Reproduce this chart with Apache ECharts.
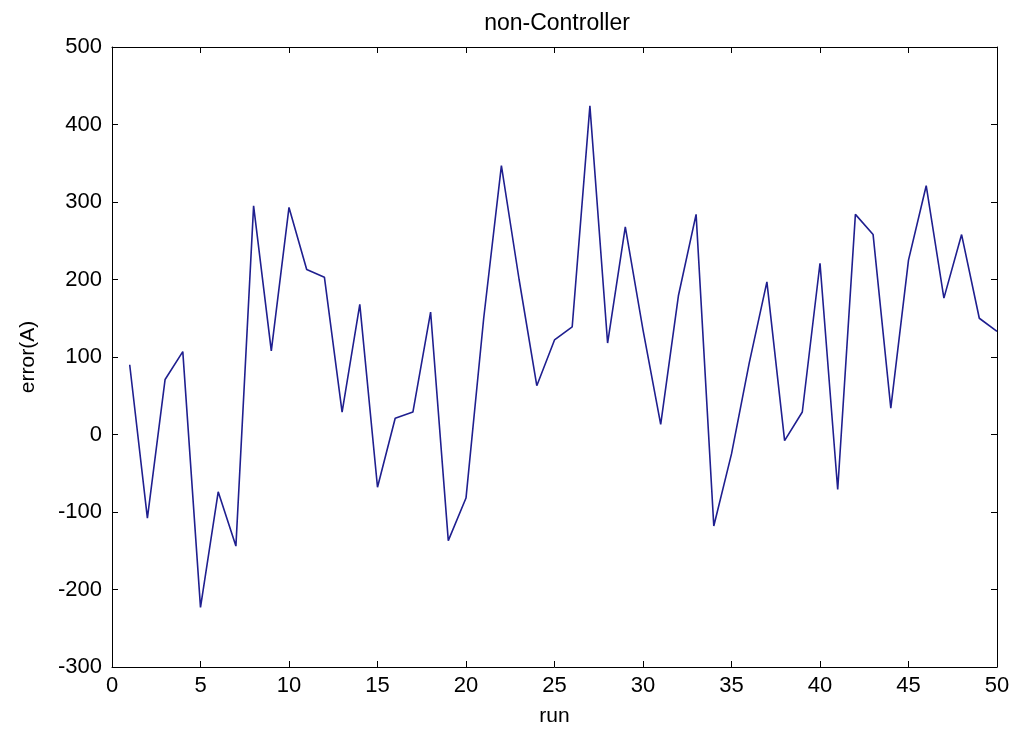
<!DOCTYPE html>
<html>
<head>
<meta charset="utf-8">
<script src="https://cdn.jsdelivr.net/npm/echarts@6/dist/echarts.min.js"></script>
<style>html,body{margin:0;padding:0;background:#fff}#c{width:1016px;height:735px}</style>
</head>
<body>
<div id="c"></div>
<script>
const runs = [1,2,3,4,5,6,7,8,9,10,11,12,13,14,15,16,17,18,19,20,21,22,23,24,25,26,27,28,29,30,31,32,33,34,35,36,37,38,39,40,41,42,43,44,45,46,47,48,49,50];
const errorA = [90,-108,71,107,-223,-74,-144,295,108,293,213,203,29,168,-68,21,29,158,-137,-82,150,347,200,63,122,139,424,118,268,135,13,179,284,-118,-25,92,197,-8,29,221,-71,284,258,34,225,321,176,258,150,133];
const xTicks = {min:0, max:50, interval:5};
const yTicks = {min:-300, max:500, interval:100};

const font = 'Liberation Sans, Arial, sans-serif';
const chart = echarts.init(document.getElementById('c'));
const mkLine = () => ({show:true, onZero:false, lineStyle:{color:'#000', width:1}});
const mkTick = () => ({show:true, inside:true, length:6, lineStyle:{color:'#000'}});
chart.setOption({
  animation:false,
  backgroundColor:'#fff',
  title:{text:'non-Controller', left:552, top:7, textAlign:'center',
    textStyle:{fontFamily:font, fontSize:23, fontWeight:'normal', color:'#000'}},
  grid:{left:112, right:19, top:47, bottom:68},
  xAxis:[{type:'value', min:xTicks.min, max:xTicks.max, interval:xTicks.interval,
    name:'run', nameLocation:'middle', nameGap:39,
    nameTextStyle:{fontFamily:font, fontSize:21, color:'#000'},
    axisLine:mkLine(), axisTick:mkTick(), splitLine:{show:false},
    axisLabel:{fontFamily:font, fontSize:22, color:'#000', margin:8}},
   {type:'value', position:'top', min:xTicks.min, max:xTicks.max, interval:xTicks.interval,
    axisLine:mkLine(), axisTick:mkTick(), splitLine:{show:false}, axisLabel:{show:false}}],
  yAxis:[{type:'value', min:yTicks.min, max:yTicks.max, interval:yTicks.interval,
    name:'error(A)', nameLocation:'middle', nameGap:73, nameRotate:90,
    nameTextStyle:{fontFamily:font, fontSize:21, color:'#000'},
    axisLine:mkLine(), axisTick:mkTick(), splitLine:{show:false},
    axisLabel:{fontFamily:font, fontSize:22, color:'#000', margin:10}},
   {type:'value', position:'right', min:yTicks.min, max:yTicks.max, interval:yTicks.interval,
    axisLine:mkLine(), axisTick:mkTick(), splitLine:{show:false}, axisLabel:{show:false}}],
  series:[{type:'line', data:runs.map((r,i)=>[r, errorA[i]]), showSymbol:false,
    lineStyle:{color:'#1f1f8f', width:1.6}, itemStyle:{color:'#1f1f8f'}}]
});
</script>
</body>
</html>
